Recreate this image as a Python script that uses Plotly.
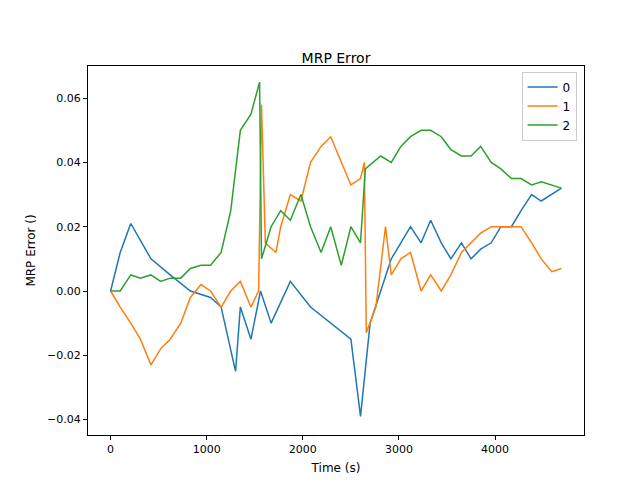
import plotly.graph_objects as go

# series 0 (blue)
t0 = [0, 100, 210, 420, 620, 830, 1040, 1150, 1300, 1350, 1460, 1560, 1670, 1870, 2080, 2290, 2500,
      2600, 2700, 2810, 2920, 3020, 3120, 3230, 3330, 3440, 3540, 3650, 3750, 3850, 3960, 4060, 4170,
      4270, 4380, 4480, 4590, 4690]
v0 = [0.0, 0.012, 0.021, 0.01, 0.005, 0.0, -0.002, -0.005, -0.025, -0.005, -0.015, 0.0, -0.01, 0.003,
      -0.005, -0.01, -0.015, -0.039, -0.01, 0.0, 0.01, 0.015, 0.02, 0.015, 0.022, 0.015, 0.01, 0.015,
      0.01, 0.013, 0.015, 0.02, 0.02, 0.025, 0.03, 0.028, 0.03, 0.032]

# series 1 (orange)
t1 = [0, 100, 210, 310, 420, 520, 620, 730, 830, 940, 1040, 1150, 1250, 1350, 1460, 1540, 1570, 1610,
      1720, 1770, 1870, 1980, 2080, 2190, 2290, 2400, 2500, 2600, 2640, 2660, 2760, 2860, 2920, 3020,
      3120, 3230, 3330, 3440, 3540, 3650, 3750, 3850, 3960, 4060, 4170, 4270, 4380, 4480, 4590, 4690]
v1 = [0.0, -0.005, -0.01, -0.015, -0.023, -0.018, -0.015, -0.01, -0.002, 0.002, 0.0, -0.005, 0.0,
      0.003, -0.005, 0.0, 0.058, 0.015, 0.012, 0.02, 0.03, 0.028, 0.04, 0.045, 0.048, 0.04, 0.033,
      0.035, 0.04, -0.013, -0.005, 0.02, 0.005, 0.01, 0.012, 0.0, 0.005, 0.0, 0.005, 0.012, 0.015,
      0.018, 0.02, 0.02, 0.02, 0.02, 0.015, 0.01, 0.006, 0.007]

# series 2 (green)
t2 = [0, 100, 210, 310, 420, 520, 620, 730, 830, 940, 1040, 1150, 1250, 1350, 1460, 1550, 1570, 1670,
      1770, 1870, 1980, 2080, 2190, 2290, 2400, 2500, 2600, 2650, 2810, 2920, 3020, 3120, 3230, 3330,
      3440, 3540, 3650, 3750, 3850, 3960, 4060, 4170, 4270, 4380, 4480, 4590, 4690]
v2 = [0.0, 0.0, 0.005, 0.004, 0.005, 0.003, 0.004, 0.004, 0.007, 0.008, 0.008, 0.012, 0.025, 0.05,
      0.055, 0.065, 0.01, 0.02, 0.025, 0.022, 0.03, 0.02, 0.012, 0.02, 0.008, 0.02, 0.015, 0.038,
      0.042, 0.04, 0.045, 0.048, 0.05, 0.05, 0.048, 0.044, 0.042, 0.042, 0.045, 0.04, 0.038, 0.035,
      0.035, 0.033, 0.034, 0.033, 0.032]

colors = ['#1f77b4', '#ff7f0e', '#2ca02c']

fig = go.Figure()
for name, t, v, c in [('0', t0, v0, colors[0]), ('1', t1, v1, colors[1]), ('2', t2, v2, colors[2])]:
    fig.add_trace(go.Scatter(x=t, y=v, mode='lines', name=name, line=dict(color=c, width=1.5)))

axis = dict(showgrid=False, zeroline=False, showline=True, linecolor='black', mirror=True,
            ticks='outside', ticklen=4, tickcolor='black', tickfont=dict(size=11), automargin=False)
fig.update_layout(
    width=640, height=480, plot_bgcolor='white', paper_bgcolor='white',
    margin=dict(l=80, r=64, t=58, b=53),
    font=dict(family='DejaVu Sans', size=11, color='black'),
    title=dict(text='MRP Error', x=0.5, xanchor='center', xref='paper',
               y=0.885, yanchor='bottom', font=dict(size=14)),
    legend=dict(x=0.985, y=0.985, xanchor='right', yanchor='top', bordercolor='#cccccc',
                borderwidth=1, font=dict(size=12)),
)
fig.update_xaxes(axis, range=[-235, 4925], tickvals=[0, 1000, 2000, 3000, 4000],
                 title=dict(text='Time (s)', standoff=8, font=dict(size=12)))
fig.update_yaxes(axis, range=[-0.0448, 0.07], tickvals=[-0.04, -0.02, 0.0, 0.02, 0.04, 0.06],
                 tickformat='.2f', title=dict(text='MRP Error ()', standoff=8, font=dict(size=12)))

fig.write_html("out.html")
